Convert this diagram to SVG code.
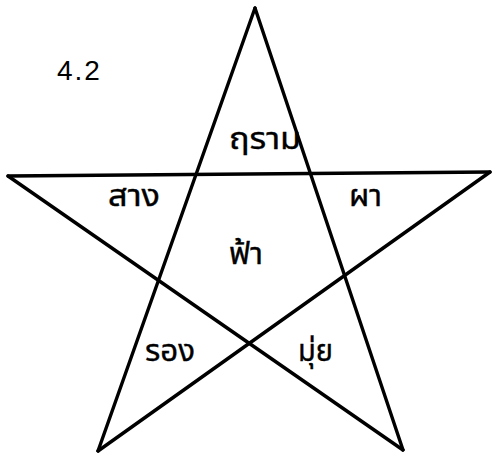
<svg xmlns="http://www.w3.org/2000/svg" width="492" height="458" viewBox="0 0 492 458">
<style>
.ln{stroke:#000;stroke-width:3.4;fill:none;stroke-linecap:round}
.th{font-family:"Noto Sans Thai","Noto Sans","DejaVu Sans",sans-serif;font-size:31px;fill:#000;stroke:#000;stroke-width:0.4}
.num{font-family:"Liberation Sans",sans-serif;font-size:28px;fill:#000}
</style>
<rect width="492" height="458" fill="#fff"/>
<g id="connectors">
<line class="ln" x1="255" y1="8" x2="98" y2="451"/>
<line class="ln" x1="255" y1="8" x2="403" y2="450"/>
<line class="ln" x1="8" y1="176" x2="490" y2="172"/>
<line class="ln" x1="8" y1="176" x2="403" y2="450"/>
<line class="ln" x1="490" y1="172" x2="98" y2="451"/>
</g>
<g id="label-4-2"><text class="num" x="57" y="80" letter-spacing="2">4.2</text></g>
<g id="kram"><text class="th" x="229" y="149" textLength="72" lengthAdjust="spacingAndGlyphs">ฤราม</text></g>
<g id="sang"><text class="th" x="108" y="206" textLength="52" lengthAdjust="spacingAndGlyphs">สาง</text></g>
<g id="pha"><text class="th" x="349" y="206" textLength="33" lengthAdjust="spacingAndGlyphs">ผา</text></g>
<g id="fa"><text class="th" x="229" y="264" textLength="34" lengthAdjust="spacingAndGlyphs">ฟ้า</text></g>
<g id="rong"><text class="th" x="145" y="361" textLength="50" lengthAdjust="spacingAndGlyphs">รอง</text></g>
<g id="mui"><text class="th" x="298" y="361" textLength="35" lengthAdjust="spacingAndGlyphs">มุ่ย</text></g>
</svg>
